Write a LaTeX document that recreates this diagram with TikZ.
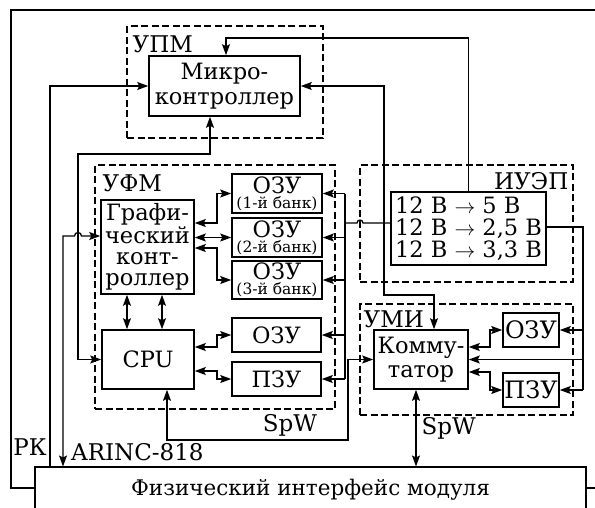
\documentclass[tikz,border=0pt]{standalone}
\usepackage{fontspec}
\setmainfont{DejaVu Serif}
\usetikzlibrary{arrows.meta}

\tikzset{
  blk/.style={draw, line width=1.6pt, fill=white, inner sep=0pt, align=center,
    font=\fontsize{22.5}{22}\selectfont},
  grp/.style={draw, line width=1.1pt, dash pattern=on 7pt off 3.5pt, inner sep=0pt},
  lbl/.style={inner sep=0pt, font=\fontsize{23}{24}\selectfont},
  lnk/.style={line width=1.3pt},
  arr/.style={lnk, -{Stealth[length=11pt,width=8pt,inset=2pt]}},
  darr/.style={lnk, {Stealth[length=11pt,width=8pt,inset=2pt]}-{Stealth[length=11pt,width=8pt,inset=2pt]}},
}
\newcommand{\banktxt}[2]{#1\\[-7pt]{\fontsize{15.5}{16}\selectfont(#2)}}

\begin{document}
\begin{tikzpicture}[x=1pt, y=-1pt]
  \useasboundingbox (0,0) rectangle (595,507);
  \clip (0,0) rectangle (595,507);
  % outer frame
  \draw[line width=1.1pt] (11,10) rectangle (640,488);
  % the dashed groups
  \node[grp, minimum width=196pt, minimum height=112pt] (upm) at (225,82) {};
  \node[grp, minimum width=240pt, minimum height=244pt] (ufm) at (215,287) {};
  \node[grp, minimum width=213pt, minimum height=117pt] (iuep) at (466.5,223.5) {};
  \node[grp, minimum width=213pt, minimum height=111pt] (umi) at (466.5,359.5) {};
  \node[lbl, anchor=north west] (upmL) at ([xshift=6pt,yshift=-10pt]upm.north west) {УПМ};
  \node[lbl, anchor=north west] (ufmL) at ([xshift=8pt,yshift=-10pt]ufm.north west) {УФМ};
  \node[lbl, anchor=north east] (iuepL) at ([xshift=-5pt,yshift=-8pt]iuep.north east) {ИУЭП};
  \node[lbl, anchor=north west] (umiL) at ([xshift=4pt,yshift=-7pt]umi.north west) {УМИ};
  % the blocks
  \node[blk, minimum width=151pt, minimum height=60pt, font=\fontsize{22.5}{25}\selectfont]
    (micro) at (224.5,86) {Микро-\\контроллер};
  \node[blk, minimum width=93pt, minimum height=94pt, font=\fontsize{22.5}{21}\selectfont]
    (graf) at (147.5,247) {Графи-\\ческий\\конт-\\роллер};
  \node[blk, minimum width=92pt, minimum height=59pt] (cpu) at (148,359.5) {CPU};
  \node[blk, minimum width=90pt, minimum height=39pt] (ozuA) at (277,193.5) {\banktxt{ОЗУ}{1-й банк}};
  \node[blk, minimum width=90pt, minimum height=39pt] (ozuB) at (277,237.5) {\banktxt{ОЗУ}{2-й банк}};
  \node[blk, minimum width=90pt, minimum height=38pt] (ozuC) at (277,280) {\banktxt{ОЗУ}{3-й банк}};
  \node[blk, minimum width=89pt, minimum height=34pt] (ozuD) at (276.5,335) {ОЗУ};
  \node[blk, minimum width=89pt, minimum height=34pt] (pzuD) at (276.5,379) {ПЗУ};
  \node[blk, align=left, minimum width=155pt, minimum height=73pt,
    font=\fontsize{22.5}{22}\selectfont] (psu) at (468.5,228.5)
    {12 В $\rightarrow$ 5 В\\12 В $\rightarrow$ 2,5 В\\12 В $\rightarrow$ 3,3 В};
  \node[blk, minimum width=94pt, minimum height=59pt, font=\fontsize{22.5}{24}\selectfont]
    (komm) at (421,359.5) {Комму-\\татор};
  \node[blk, minimum width=56pt, minimum height=34pt, font=\fontsize{24}{24}\selectfont]
    (ozuE) at (531,330) {ОЗУ};
  \node[blk, minimum width=56pt, minimum height=34pt, font=\fontsize{24}{24}\selectfont]
    (pzuE) at (531,390) {ПЗУ};
  \node[blk, line width=1.1pt, minimum width=551pt, minimum height=46pt,
    font=\fontsize{21.5}{22}\selectfont] (phy) at (310.5,490) {Физический интерфейс модуля};

  % links to the module interface
  \draw[arr] (phy.north -| 50,0) |- (micro.west);
  \node[lbl] (rk) at (30,447) {РК};
  \draw[darr] (graf.west |- 0,236) -- (81.5,236) arc[start angle=0, end angle=-180, radius=3.5]
    -- (63,236) -- (phy.north -| 63,0);
  \node[lbl, anchor=west] (arinc) at (71,452) {ARINC-818};
  \draw[darr] (cpu.south -| 167,0) |- (348,440) |- (komm.west);
  \node[lbl] (spwA) at (290,425) {SpW};
  \draw[darr] (komm.south -| 416,0) -- (phy.north -| 416,0)
    node[lbl, midway, anchor=west, xshift=5pt] (spwB) {SpW};

  % control links
  \draw[darr] (cpu.west) -| (78,154) -| (micro.south -| 210,0);
  \draw[darr] (micro.east) -| (384,295) -| (komm.north -| 434,0);
  \draw[arr] (psu.north) |- (226,38) -- (micro.north -| 226,0);

  % memory links
  \draw[darr] (graf.east |- 0,223) -| (217,193.5) -- (ozuA.west);
  \draw[darr] (graf.east |- ozuB.west) -- (ozuB.west);
  \draw[darr] (graf.east |- 0,248) -| (217,280) -- (ozuC.west);
  \draw[darr] (graf.south -| 127,0) -- (cpu.north -| 127,0);
  \draw[darr] (graf.south -| 162,0) -- (cpu.north -| 162,0);
  \draw[darr] (cpu.east |- 0,347) -| (217,335) -- (ozuD.west);
  \draw[darr] (cpu.east |- 0,371) -| (217,379) -- (pzuD.west);
  \draw[darr] (komm.east |- 0,347) -| (490,330) -- (ozuE.west);
  \draw[darr] (komm.east |- 0,372) -| (490,390) -- (pzuE.west);

  % power lines
  \coordinate (busL) at (345,223);
  \coordinate (busR) at (583,227);
  \draw[lnk] (psu.west |- busL) -- (363,223) arc[start angle=0, end angle=-180, radius=3] -- (busL);
  \draw[lnk] (busL |- ozuA.east) -- (busL |- pzuD.east);
  \foreach \m in {ozuA,ozuB,ozuC,ozuD,pzuD}
    \draw[arr] (busL |- \m.east) -- (\m.east);
  \draw[lnk] (psu.east |- busR) -- (busR) -- (busR |- pzuE.east);
  \foreach \m in {ozuE,komm,pzuE}
    \draw[arr] (busR |- \m.east) -- (\m.east);
\end{tikzpicture}
\end{document}
